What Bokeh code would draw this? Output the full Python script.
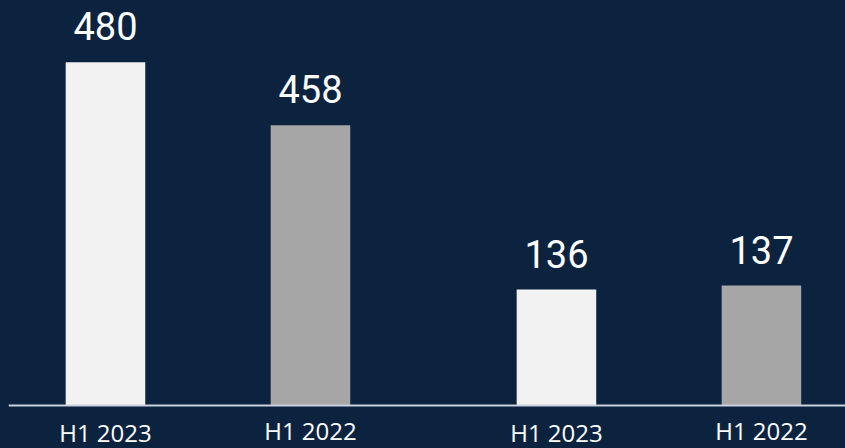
from bokeh.plotting import figure
from bokeh.models import Range1d, ColumnDataSource, Span
from bokeh.core.properties import value
from bokeh.embed import file_html
from bokeh.resources import INLINE

# ---- data ----
periods = ["H1 2023", "H1 2022", "H1 2023", "H1 2022"]
groups = [0, 0, 1, 1]
series = ["current", "prior", "current", "prior"]
values = [480, 458, 136, 137]
# each group is drawn on its own value scale in the source chart: (baseline value, top of plot value)
group_scales = [(360, 501.6), (107, 208.25)]

# ---- style / layout ----
BG = "#0c2340"
COLORS = {"current": "#f2f2f2", "prior": "#a6a6a6"}
GROUP_GAP = 0.2
BAR_WIDTH = 0.388
W, H = 845, 448
LEFT = 8          # baseline starts 8px from the left edge
LABEL_BAND = 43   # px below the baseline for the category labels
LABEL_DROP = {"current": 27, "prior": 25}

# position of each bar: index inside its group + group offset
xpos = []
seen = {}
for g in groups:
    k = seen.get(g, 0)
    seen[g] = k + 1
    xpos.append(k + g * (2 + GROUP_GAP))


def full_range(base, top):
    ppu = (H - LABEL_BAND) / (top - base)
    return Range1d(base - LABEL_BAND / ppu, top)


p = figure(width=W, height=H,
           x_range=Range1d(-0.473, 3.61),
           y_range=full_range(*group_scales[0]),
           output_backend="svg", toolbar_location=None,
           x_axis_location=None, y_axis_location=None,
           min_border=0, min_border_left=LEFT,
           background_fill_color=BG, border_fill_color=BG,
           outline_line_color=None)
p.extra_y_ranges = {"g1": full_range(*group_scales[1])}
p.grid.visible = False

p.add_layout(Span(location=group_scales[0][0], dimension="width",
                  line_color="#c9d1de", line_width=2))

for g, rname in [(0, "default"), (1, "g1")]:
    idx = [i for i in range(len(values)) if groups[i] == g]
    src = ColumnDataSource(dict(
        x=[xpos[i] for i in idx],
        top=[values[i] for i in idx],
        base=[group_scales[g][0]] * len(idx),
        color=[COLORS[series[i]] for i in idx],
        label=[str(values[i]) for i in idx],
        period=[periods[i] for i in idx],
        drop=[LABEL_DROP[series[i]] for i in idx],
    ))
    p.vbar(x="x", top="top", bottom="base", width=BAR_WIDTH,
           fill_color="color", line_color=None, source=src, y_range_name=rname)
    p.text(x="x", y="top", text="label", source=src, y_range_name=rname,
           text_align="center", text_baseline="alphabetic", y_offset=-36,
           text_font=value("Roboto"), text_font_size="38px", text_color="#ffffff")
    p.text(x="x", y="base", text="period", source=src, y_range_name=rname,
           text_align="center", text_baseline="alphabetic", y_offset="drop",
           text_font=value("Open Sans"), text_font_size="24px", text_color="#ffffff")

html = file_html(p, INLINE)
html = html.replace("</head>", "<style>html,body{background:%s;}</style></head>" % BG, 1)
open("out.html", "w").write(html)
